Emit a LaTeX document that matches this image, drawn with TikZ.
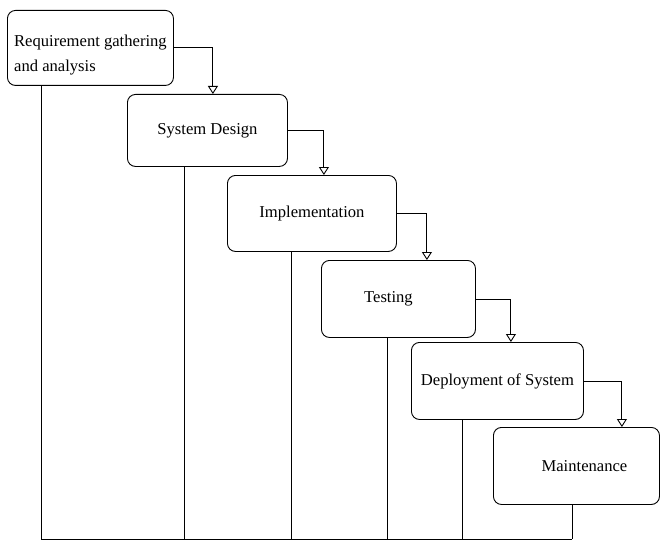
\documentclass[tikz,border=0pt]{standalone}
\usepackage{fontspec}
\setmainfont{Liberation Serif}
\usetikzlibrary{arrows.meta}

\begin{document}
\begin{tikzpicture}[x=1pt,y=-1pt,line width=0.9pt,
	flow/.style={-{Triangle[open,width=10pt,length=8pt]}},
	phase/.style={rectangle,rounded corners=8pt,draw,anchor=north west,inner sep=0pt,
		font=\fontsize{16.6}{25}\selectfont}]

	\useasboundingbox (0,0) rectangle (660,540);
	\node[phase,minimum width=166pt,minimum height=75pt,align=left] (req) at (7,10) {\rule{0pt}{25pt}Requirement gathering\\and analysis};
	\node[phase,minimum width=160pt,minimum height=72pt] (design) at (127,94) {System Design};
	\node[phase,minimum width=169pt,minimum height=76pt] (impl) at (227,175) {Implementation};
	\node[phase,minimum width=154pt,minimum height=77pt] (test) at (321,260) {Testing\hspace*{20pt}};
	\node[phase,minimum width=172pt,minimum height=77pt] (deploy) at (411,342) {Deployment of System};
	\node[phase,minimum width=166pt,minimum height=77pt] (maint) at (493,427) {\hspace*{16pt}Maintenance};

	\coordinate (base) at (0,539);
	\foreach \n/\d in {req/34,design/57,impl/64,test/66,deploy/51,maint/79}
		\draw (\n.south west) ++(\d,0) coordinate (\n-drop) -- (\n-drop |- base);
	\draw (req-drop |- base) -- (maint-drop |- base);

	\foreach \a/\b/\d in {req/design/39,design/impl/36,impl/test/30,test/deploy/35,deploy/maint/38}
		\draw[flow] (\a.east) -- ++(\d,0) coordinate (turn) -- (turn |- \b.north);
\end{tikzpicture}
\end{document}
